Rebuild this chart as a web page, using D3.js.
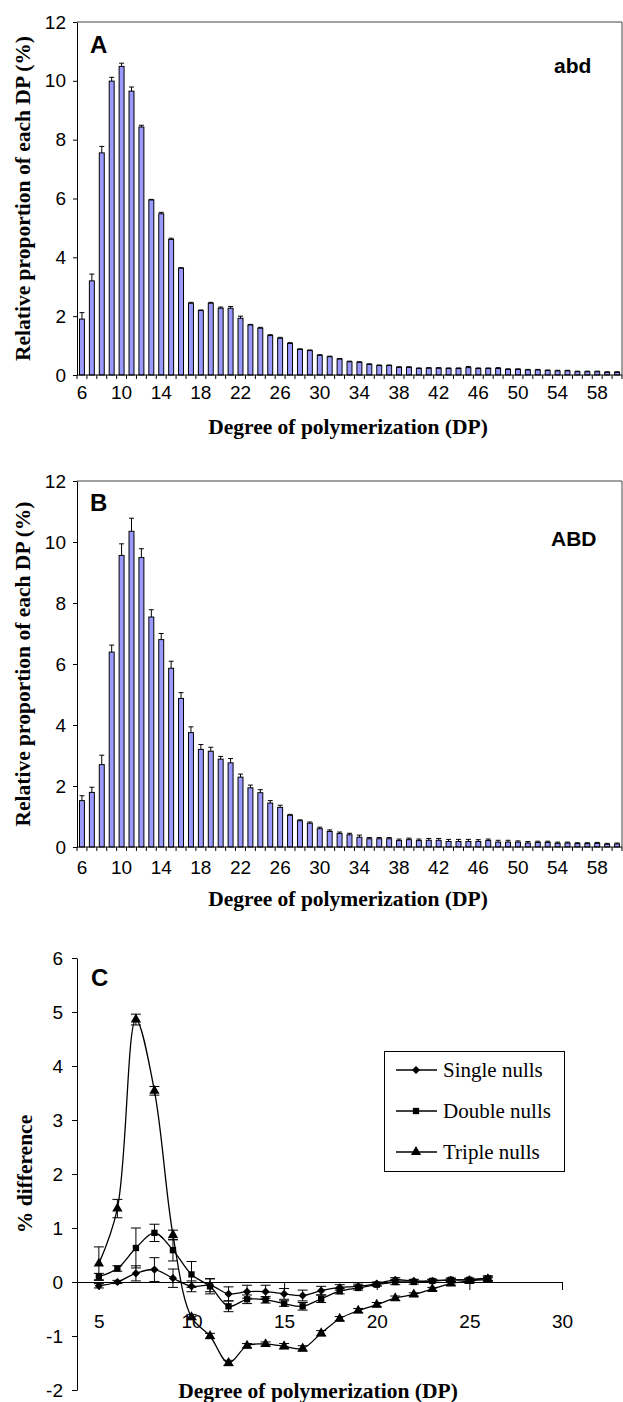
<!DOCTYPE html>
<html lang="en">
<head>
<meta charset="utf-8">
<title>DP distribution</title>
<script src="https://cdn.jsdelivr.net/npm/d3@7"></script>
<style>
body  { margin: 0; background: #fff; }
svg   { display: block; }
.tick text { font-family: "Liberation Sans", Arial, sans-serif; font-size: 19px; fill: #000; }
.title { font-family: "Liberation Serif", "Times New Roman", serif; font-weight: bold; font-size: 21.5px; }
.panel { font-family: "Liberation Sans", Arial, sans-serif; font-weight: bold; }
.bar   { fill: #9999ff; stroke: #000; stroke-width: 1; }
.legend text { font-family: "Liberation Serif", "Times New Roman", serif; font-size: 21px; }
</style>
</head>
<body>
<script>

// categories (degree of polymerization) for panels A and B
var dpCats = [6, 7, 8, 9, 10, 11, 12, 13, 14, 15, 16, 17, 18, 19, 20, 21, 22, 23, 24, 25,
  26, 27, 28, 29, 30, 31, 32, 33, 34, 35, 36, 37, 38, 39, 40, 41, 42, 43, 44, 45,
  46, 47, 48, 49, 50, 51, 52, 53, 54, 55, 56, 57, 58, 59, 60];
var dpLabels = [6, 10, 14, 18, 22, 26, 30, 34, 38, 42, 46, 50, 54, 58];
var pctTicks = [0, 2, 4, 6, 8, 10, 12];

// panel A: abd
var abdVals = [1.90, 3.20, 7.55, 9.99, 10.49, 9.65, 8.43, 5.95, 5.48, 4.61, 3.63, 2.44, 2.19, 2.44, 2.27,
  2.27, 1.93, 1.70, 1.59, 1.34, 1.25, 1.07, 0.87, 0.83, 0.67, 0.62, 0.54, 0.45, 0.43, 0.36,
  0.32, 0.32, 0.26, 0.26, 0.22, 0.23, 0.23, 0.22, 0.22, 0.25, 0.22, 0.22, 0.22, 0.19, 0.19,
  0.17, 0.17, 0.15, 0.14, 0.14, 0.11, 0.11, 0.11, 0.09, 0.09];
var abdErr = [0.22, 0.23, 0.22, 0.13, 0.11, 0.14, 0.06, 0.02, 0.05, 0.04, 0.02, 0.03, 0.02, 0.03, 0.04,
  0.06, 0.07, 0.02, 0.03, 0.03, 0.03, 0.03, 0.02, 0.02, 0.02, 0.02, 0.02, 0.02, 0.02, 0.02,
  0.02, 0.02, 0.02, 0.02, 0.02, 0.02, 0.02, 0.02, 0.02, 0.04, 0.02, 0.02, 0.03, 0.02, 0.02,
  0.02, 0.02, 0.02, 0.02, 0.02, 0.02, 0.02, 0.02, 0.02, 0.02];

// panel B: ABD
var ABDVals = [1.52, 1.79, 2.70, 6.39, 9.56, 10.35, 9.49, 7.54, 6.80, 5.86, 4.87, 3.75, 3.20, 3.14, 2.88,
  2.76, 2.29, 1.94, 1.78, 1.44, 1.30, 1.04, 0.86, 0.78, 0.60, 0.51, 0.44, 0.40, 0.32, 0.27,
  0.27, 0.27, 0.21, 0.24, 0.21, 0.22, 0.22, 0.18, 0.18, 0.18, 0.18, 0.21, 0.16, 0.16, 0.16,
  0.13, 0.15, 0.15, 0.12, 0.13, 0.11, 0.11, 0.12, 0.09, 0.10];
var ABDErr = [0.16, 0.17, 0.31, 0.23, 0.38, 0.43, 0.29, 0.24, 0.20, 0.23, 0.19, 0.19, 0.16, 0.13, 0.09,
  0.14, 0.10, 0.09, 0.10, 0.08, 0.07, 0.03, 0.03, 0.04, 0.05, 0.05, 0.05, 0.05, 0.07, 0.04,
  0.04, 0.04, 0.05, 0.05, 0.05, 0.06, 0.06, 0.07, 0.07, 0.07, 0.06, 0.05, 0.06, 0.06, 0.04,
  0.05, 0.04, 0.04, 0.04, 0.03, 0.03, 0.03, 0.03, 0.03, 0.03];

// panel C: % difference vs DP
var dpC = [5, 6, 7, 8, 9, 10, 11, 12, 13, 14, 15, 16, 17, 18, 19, 20, 21, 22, 23, 24, 25, 26];
var cTicksX = [5, 10, 15, 20, 25, 30];
var cTicksY = [-2, -1, 0, 1, 2, 3, 4, 5, 6];
var singleVals = [-0.07, 0.00, 0.16, 0.23, 0.07, -0.08, -0.06, -0.22, -0.18, -0.18, -0.22, -0.25,
  -0.16, -0.10, -0.08, -0.03, 0.04, 0.02, 0.02, 0.04, 0.04, 0.07];
var singleErr = [0.04, 0.03, 0.14, 0.22, 0.17, 0.10, 0.12, 0.13, 0.12, 0.12, 0.10, 0.10,
  0.08, 0.05, 0.04, 0.03, 0.04, 0.03, 0.03, 0.03, 0.03, 0.04];
var doubleVals = [0.10, 0.25, 0.63, 0.91, 0.59, 0.14, -0.08, -0.45, -0.32, -0.33, -0.40, -0.45,
  -0.31, -0.17, -0.11, -0.05, 0.00, 0.00, 0.02, 0.04, 0.04, 0.07];
var doubleErr = [0.06, 0.05, 0.37, 0.16, 0.20, 0.24, 0.14, 0.10, 0.08, 0.06, 0.05, 0.07,
  0.07, 0.05, 0.04, 0.03, 0.05, 0.04, 0.03, 0.03, 0.03, 0.04];
var tripleVals = [0.34, 1.36, 4.86, 3.54, 0.87, -0.65, -1.00, -1.50, -1.18, -1.15, -1.19, -1.23,
  -0.95, -0.68, -0.53, -0.42, -0.30, -0.23, -0.13, -0.03, 0.02, 0.05];
var tripleErr = [0.31, 0.17, 0.10, 0.08, 0.09, 0.05, 0.05, 0.05, 0.04, 0.04, 0.05, 0.05,
  0.05, 0.04, 0.04, 0.04, 0.04, 0.03, 0.03, 0.03, 0.03, 0.03];

var svg = d3.select("body").append("svg")
    .attr("width", 623)
    .attr("height", 1402);

// plain hyphen minus, as in the original
var plainFmt = function(d) { return String(d); };

// bar panel (A and B)
function barPanel(top, bottom, vals, errs, letter, letterY, tag, tagX, tagY, labelPad) {
  var x = d3.scaleBand().domain(dpCats).range([77, 622]);
  var y = d3.scaleLinear().domain([0, 12]).range([bottom, top]);
  var g = svg.append("g");
  var bw = x.bandwidth() * 0.5;

  // plot area frame (top and right)
  g.append("path")
    .attr("d", "M" + x.range()[0] + "," + y(12) + "H" + x.range()[1] + "V" + y(0))
    .attr("fill", "none").attr("stroke", "#444");

  g.selectAll(".bar").data(dpCats).enter().append("rect")
    .attr("class", "bar")
    .attr("x", function(d) { return x(d) + (x.bandwidth() - bw) / 2; })
    .attr("y", function(d, i) { return y(vals[i]); })
    .attr("width", bw)
    .attr("height", function(d, i) { return y(0) - y(vals[i]); });

  // error bars, upper half only
  var eb = g.selectAll(".err").data(dpCats).enter().append("g")
    .attr("stroke", "#000").attr("stroke-width", 1);
  eb.append("line")
    .attr("x1", function(d) { return x(d) + x.bandwidth() / 2; })
    .attr("x2", function(d) { return x(d) + x.bandwidth() / 2; })
    .attr("y1", function(d, i) { return y(vals[i]); })
    .attr("y2", function(d, i) { return y(vals[i] + errs[i]); });
  eb.append("line")
    .attr("x1", function(d) { return x(d) + x.bandwidth() / 2 - bw / 2; })
    .attr("x2", function(d) { return x(d) + x.bandwidth() / 2 + bw / 2; })
    .attr("y1", function(d, i) { return y(vals[i] + errs[i]); })
    .attr("y2", function(d, i) { return y(vals[i] + errs[i]); });

  // category axis: ticks on band edges, labels on every 4th
  var xAxis = g.append("g").attr("transform", "translate(0," + y(0) + ")");
  xAxis.append("line").attr("x1", x.range()[0]).attr("x2", x.range()[1]).attr("stroke", "#000");
  xAxis.selectAll(".edge").data(dpCats.concat(["end"])).enter().append("line")
    .attr("x1", function(d) { return d === "end" ? x.range()[1] : x(d); })
    .attr("x2", function(d) { return d === "end" ? x.range()[1] : x(d); })
    .attr("y1", 0).attr("y2", 4).attr("stroke", "#000");
  var labAxis = g.append("g")
    .attr("transform", "translate(0," + y(0) + ")")
    .call(d3.axisBottom(x).tickValues(dpLabels).tickSize(0).tickPadding(labelPad));
  labAxis.select(".domain").remove();

  var yAxis = g.append("g")
    .attr("transform", "translate(" + x.range()[0] + ",0)")
    .call(d3.axisLeft(y).tickValues(pctTicks).tickSize(4).tickPadding(7).tickSizeOuter(0));
  yAxis.select(".domain").attr("stroke", "#000");

  g.append("text").attr("class", "title")
    .attr("text-anchor", "middle")
    .attr("x", 348).attr("y", y(0) + 59)
    .text("Degree of polymerization (DP)");
  g.append("text").attr("class", "title")
    .attr("text-anchor", "middle")
    .attr("transform", "translate(30," + (top + bottom) / 2 + ") rotate(-90)")
    .text("Relative proportion of each DP (%)");

  g.append("text").attr("class", "panel").attr("font-size", 24)
    .attr("x", 90).attr("y", letterY).text(letter);
  g.append("text").attr("class", "panel").attr("font-size", 21)
    .attr("x", tagX).attr("y", tagY).text(tag);
}

barPanel(22, 375, abdVals, abdErr, "A", 53, "abd", 554, 73, 11);
barPanel(481, 847, ABDVals, ABDErr, "B", 511, "ABD", 551, 546, 14);

// panel C
var xc = d3.scaleLinear().domain([3.82, 30]).range([77, 562]);
var yc = d3.scaleLinear().domain([-2, 6]).range([1390, 958]);
var gc = svg.append("g");

var cyAxis = gc.append("g")
  .attr("transform", "translate(" + xc(3.82) + ",0)")
  .call(d3.axisLeft(yc).tickValues(cTicksY).tickFormat(plainFmt)
    .tickSize(5).tickPadding(9).tickSizeOuter(0));
var cxAxis = gc.append("g")
  .attr("transform", "translate(0," + yc(0) + ")")
  .call(d3.axisBottom(xc).tickValues(cTicksX).tickFormat(plainFmt)
    .tickSize(8).tickPadding(25).tickSizeOuter(0));

var series = [
  { name: "Single nulls", vals: singleVals, errs: singleErr, sym: "diamond" },
  { name: "Double nulls", vals: doubleVals, errs: doubleErr, sym: "square" },
  { name: "Triple nulls", vals: tripleVals, errs: tripleErr, sym: "triangle" }
];

function marker(sel, sym) {
  if (sym === "diamond") {
    sel.attr("d", d3.symbol().type(d3.symbolSquare).size(34)());
  } else if (sym === "square") {
    sel.attr("d", d3.symbol().type(d3.symbolSquare).size(40)());
  } else {
    sel.attr("d", d3.symbol().type(d3.symbolTriangle).size(46)());
  }
  return sel;
}
function markTransform(sym, px, py) {
  return "translate(" + px + "," + py + ")" + (sym === "diamond" ? " rotate(45)" : "");
}

var line = d3.line()
  .curve(d3.curveCatmullRom.alpha(0.5))
  .x(function(d, i) { return xc(dpC[i]); })
  .y(function(d) { return yc(d); });

series.forEach(function(s) {
  var sg = gc.append("g");
  sg.append("path").attr("d", line(s.vals))
    .attr("fill", "none").attr("stroke", "#000").attr("stroke-width", 1.3);

  var eb = sg.selectAll(".e").data(s.vals).enter().append("g")
    .attr("stroke", "#000").attr("stroke-width", 1);
  eb.append("line")
    .attr("x1", function(d, i) { return xc(dpC[i]); })
    .attr("x2", function(d, i) { return xc(dpC[i]); })
    .attr("y1", function(d, i) { return yc(d - s.errs[i]); })
    .attr("y2", function(d, i) { return yc(d + s.errs[i]); });
  [-1, 1].forEach(function(sgn) {
    eb.append("line")
      .attr("x1", function(d, i) { return xc(dpC[i]) - 5; })
      .attr("x2", function(d, i) { return xc(dpC[i]) + 5; })
      .attr("y1", function(d, i) { return yc(d + sgn * s.errs[i]); })
      .attr("y2", function(d, i) { return yc(d + sgn * s.errs[i]); });
  });

  marker(sg.selectAll(".m").data(s.vals).enter().append("path"), s.sym)
    .attr("transform", function(d, i) { return markTransform(s.sym, xc(dpC[i]), yc(d)); })
    .attr("fill", "#000");
});

// legend
var lg = gc.append("g").attr("class", "legend");
lg.append("rect").attr("x", 384.5).attr("y", 1051.5).attr("width", 180).attr("height", 120)
  .attr("fill", "#fff").attr("stroke", "#000");
var li = lg.selectAll(".li").data(series).enter().append("g")
  .attr("transform", function(d, i) { return "translate(0," + (1070 + i * 41) + ")"; });
li.append("line").attr("x1", 396).attr("x2", 437).attr("stroke", "#000").attr("stroke-width", 1.3);
li.each(function(d) {
  marker(d3.select(this).append("path"), d.sym)
    .attr("transform", markTransform(d.sym, 416, 0)).attr("fill", "#000");
});
li.append("text").attr("x", 443).attr("dy", "0.35em").text(function(d) { return d.name; });

gc.append("text").attr("class", "title")
  .attr("text-anchor", "middle").attr("x", 318).attr("y", 1398)
  .text("Degree of polymerization (DP)");
gc.append("text").attr("class", "title")
  .attr("text-anchor", "middle")
  .attr("transform", "translate(32," + yc(2) + ") rotate(-90)")
  .text("% difference");
gc.append("text").attr("class", "panel").attr("font-size", 24)
  .attr("x", 91).attr("y", 986).text("C");

</script>
</body>
</html>
